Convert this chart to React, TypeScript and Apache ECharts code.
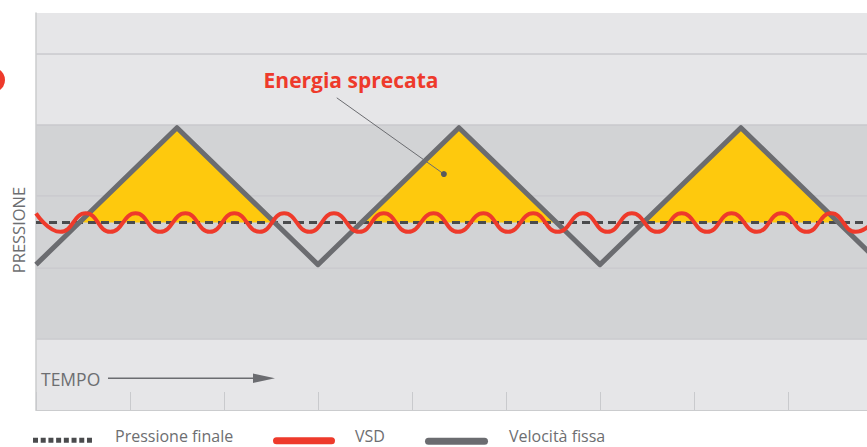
import { useEffect, useRef } from "react";
import * as echarts from "echarts";

// ---- axes (value units: 1 x-unit per bottom tick, 1 y-unit per grid line) ----
const X_MAX = 8.98;
const Y_MAX = 5.57;
const bandColors = ["#e6e6e8", "#d2d3d5", "#d2d3d5", "#d2d3d5", "#e6e6e8", "#e6e6e8"];

// ---- Velocità fissa (triangle wave) ----
const fixedX = [0, 1.5, 3, 4.5, 6, 7.5, 9];
const fixedY = [2.04, 3.96, 2.04, 3.96, 2.04, 3.96, 2.04];

// ---- Pressione finale (set point) ----
const targetLevel = 2.63;

// ---- VSD (oscillating pressure, peaks and troughs) ----
const vsdX = [
  0.0, 0.26, 0.53, 0.79, 1.06, 1.32, 1.59, 1.85, 2.11, 2.38, 2.64, 2.91, 3.17, 3.44,
  3.7, 3.96, 4.23, 4.49, 4.76, 5.02, 5.29, 5.55, 5.82, 6.08, 6.34, 6.61, 6.87, 7.14,
  7.4, 7.67, 7.93, 8.2, 8.46, 8.72, 8.99,
];
const vsdY = [
  2.76, 2.5, 2.76, 2.5, 2.76, 2.5, 2.76, 2.5, 2.76, 2.5, 2.76, 2.5, 2.76, 2.5,
  2.76, 2.5, 2.76, 2.5, 2.76, 2.5, 2.76, 2.5, 2.76, 2.5, 2.76, 2.5, 2.76, 2.5,
  2.76, 2.5, 2.76, 2.5, 2.76, 2.5, 2.76,
];

// ---- annotation leader ----
const noteX = [3.2, 4.34];
const noteY = [4.38, 3.31];
const noteText = "Energia sprecata";

const legendNames = ["Pressione finale", "VSD", "Velocità fissa"];

const RED = "#ee3a2b";
const GRAY = "#6b6c70";
const DASH = "#4a4b4d";
const YELLOW = "#fec90d";
const TEXT = "#6d6e71";
const FONT = "'Open Sans', sans-serif";

export default function App() {
  const ref = useRef<HTMLDivElement>(null);

  useEffect(() => {
    if (!ref.current) return;
    const chart = echarts.init(ref.current, null, { renderer: "svg" });

    const pairs = (xs: number[], ys: number[]) => xs.map((x, i) => [x, ys[i]]);

    const legendText = (text: string, x: number, y: number) => ({
      type: "text",
      z: 10,
      x,
      y,
      style: { text, fill: TEXT, font: `16px ${FONT}`, align: "left", verticalAlign: "middle" },
    });

    const option: any = {
      animation: false,
      grid: { left: 36, right: 0, top: 13, bottom: 37 },
      xAxis: {
        type: "value",
        min: 0,
        max: X_MAX,
        interval: 1,
        axisLine: { show: true, lineStyle: { color: "#cbccce", width: 1 } },
        axisTick: { show: true, inside: true, length: 18, lineStyle: { color: "#c9cacd", width: 1 } },
        axisLabel: { show: false },
        splitLine: { show: false },
      },
      yAxis: {
        type: "value",
        min: 0,
        max: Y_MAX,
        interval: 1,
        axisLine: { show: true, lineStyle: { color: "#cbccce", width: 1.5 } },
        axisTick: { show: false },
        axisLabel: { show: false },
        splitLine: {
          show: true,
          showMinLine: false,
          showMaxLine: false,
          lineStyle: { color: "#c8c9cc", width: 1.5 },
        },
        splitArea: { show: true, areaStyle: { color: bandColors } },
      },
      series: [
        {
          type: "custom",
          name: "area",
          data: [[0, 0]],
          clip: true,
          z: 2,
          silent: true,
          renderItem: (_params: any, api: any) => {
            const children: any[] = [];
            for (let i = 1; i < fixedX.length - 1; i++) {
              if (fixedY[i] <= targetLevel) continue;
              const cross = (j: number) => {
                const t = (targetLevel - fixedY[j]) / (fixedY[i] - fixedY[j]);
                return fixedX[j] + t * (fixedX[i] - fixedX[j]);
              };
              const pts = [
                [cross(i - 1), targetLevel],
                [fixedX[i], fixedY[i]],
                [cross(i + 1), targetLevel],
              ].map((p) => api.coord(p));
              children.push({ type: "polygon", shape: { points: pts }, style: { fill: YELLOW } });
            }
            return { type: "group", children };
          },
        },
        {
          type: "line",
          name: legendNames[0],
          data: [
            [0, targetLevel],
            [X_MAX, targetLevel],
          ],
          showSymbol: false,
          symbol: "none",
          z: 3,
          color: DASH,
          lineStyle: { color: DASH, width: 3, type: [8, 5] },
        },
        {
          type: "line",
          name: legendNames[2],
          data: pairs(fixedX, fixedY),
          showSymbol: false,
          symbol: "none",
          z: 4,
          color: GRAY,
          lineStyle: { color: GRAY, width: 5, join: "round" },
        },
        {
          type: "line",
          name: legendNames[1],
          data: pairs(vsdX, vsdY),
          smooth: 0.5,
          showSymbol: false,
          symbol: "none",
          z: 5,
          color: RED,
          lineStyle: { color: RED, width: 4 },
        },
        {
          type: "line",
          name: "note",
          data: pairs(noteX, noteY),
          symbol: "circle",
          showSymbol: true,
          symbolSize: (_v: any, p: any) => (p.dataIndex === 1 ? 6 : 0),
          z: 6,
          silent: true,
          itemStyle: { color: "#58595d" },
          lineStyle: { color: GRAY, width: 1 },
        },
      ],
      graphic: [
        {
          type: "circle",
          z: 10,
          shape: { cx: -7.5, cy: 80, r: 12.5 },
          style: { fill: RED },
        },
        {
          type: "text",
          z: 10,
          x: 18.5,
          y: 230,
          rotation: Math.PI / 2,
          style: {
            text: "PRESSIONE",
            fill: TEXT,
            font: `16.5px ${FONT}`,
            align: "center",
            verticalAlign: "middle",
          },
        },
        {
          type: "text",
          z: 10,
          x: 41,
          y: 379,
          style: {
            text: "TEMPO",
            fill: TEXT,
            font: `17.5px ${FONT}`,
            align: "left",
            verticalAlign: "middle",
          },
        },
        {
          type: "line",
          z: 10,
          shape: { x1: 108, y1: 378.2, x2: 262, y2: 378.2 },
          style: { stroke: GRAY, lineWidth: 1.6 },
        },
        {
          type: "polygon",
          z: 10,
          shape: {
            points: [
              [253, 373.5],
              [275, 378.2],
              [253, 383],
            ],
          },
          style: { fill: GRAY },
        },
        {
          type: "text",
          z: 10,
          x: 351,
          y: 80,
          style: {
            text: noteText,
            fill: RED,
            font: `bold 21px ${FONT}`,
            align: "center",
            verticalAlign: "middle",
          },
        },
        // ---- legend ----
        {
          type: "line",
          z: 10,
          shape: { x1: 33, y1: 440.3, x2: 92, y2: 440.3 },
          style: { stroke: DASH, lineWidth: 5, lineDash: [5, 2.71] },
        },
        legendText(legendNames[0], 115, 436),
        {
          type: "line",
          z: 10,
          shape: { x1: 276.5, y1: 440.7, x2: 331.5, y2: 440.7 },
          style: { stroke: RED, lineWidth: 7, lineCap: "round" },
        },
        legendText(legendNames[1], 355, 436),
        {
          type: "line",
          z: 10,
          shape: { x1: 428.5, y1: 441.3, x2: 484.5, y2: 441.3 },
          style: { stroke: GRAY, lineWidth: 7, lineCap: "round" },
        },
        legendText(legendNames[2], 509, 436),
      ],
    };

    chart.setOption(option);
    return () => chart.dispose();
  }, []);

  return (
    <div style={{ position: "fixed", left: 0, top: 0, width: 867, height: 447, overflow: "hidden", background: "#fff" }}>
      <div ref={ref} style={{ width: 880, height: 447 }} />
    </div>
  );
}
